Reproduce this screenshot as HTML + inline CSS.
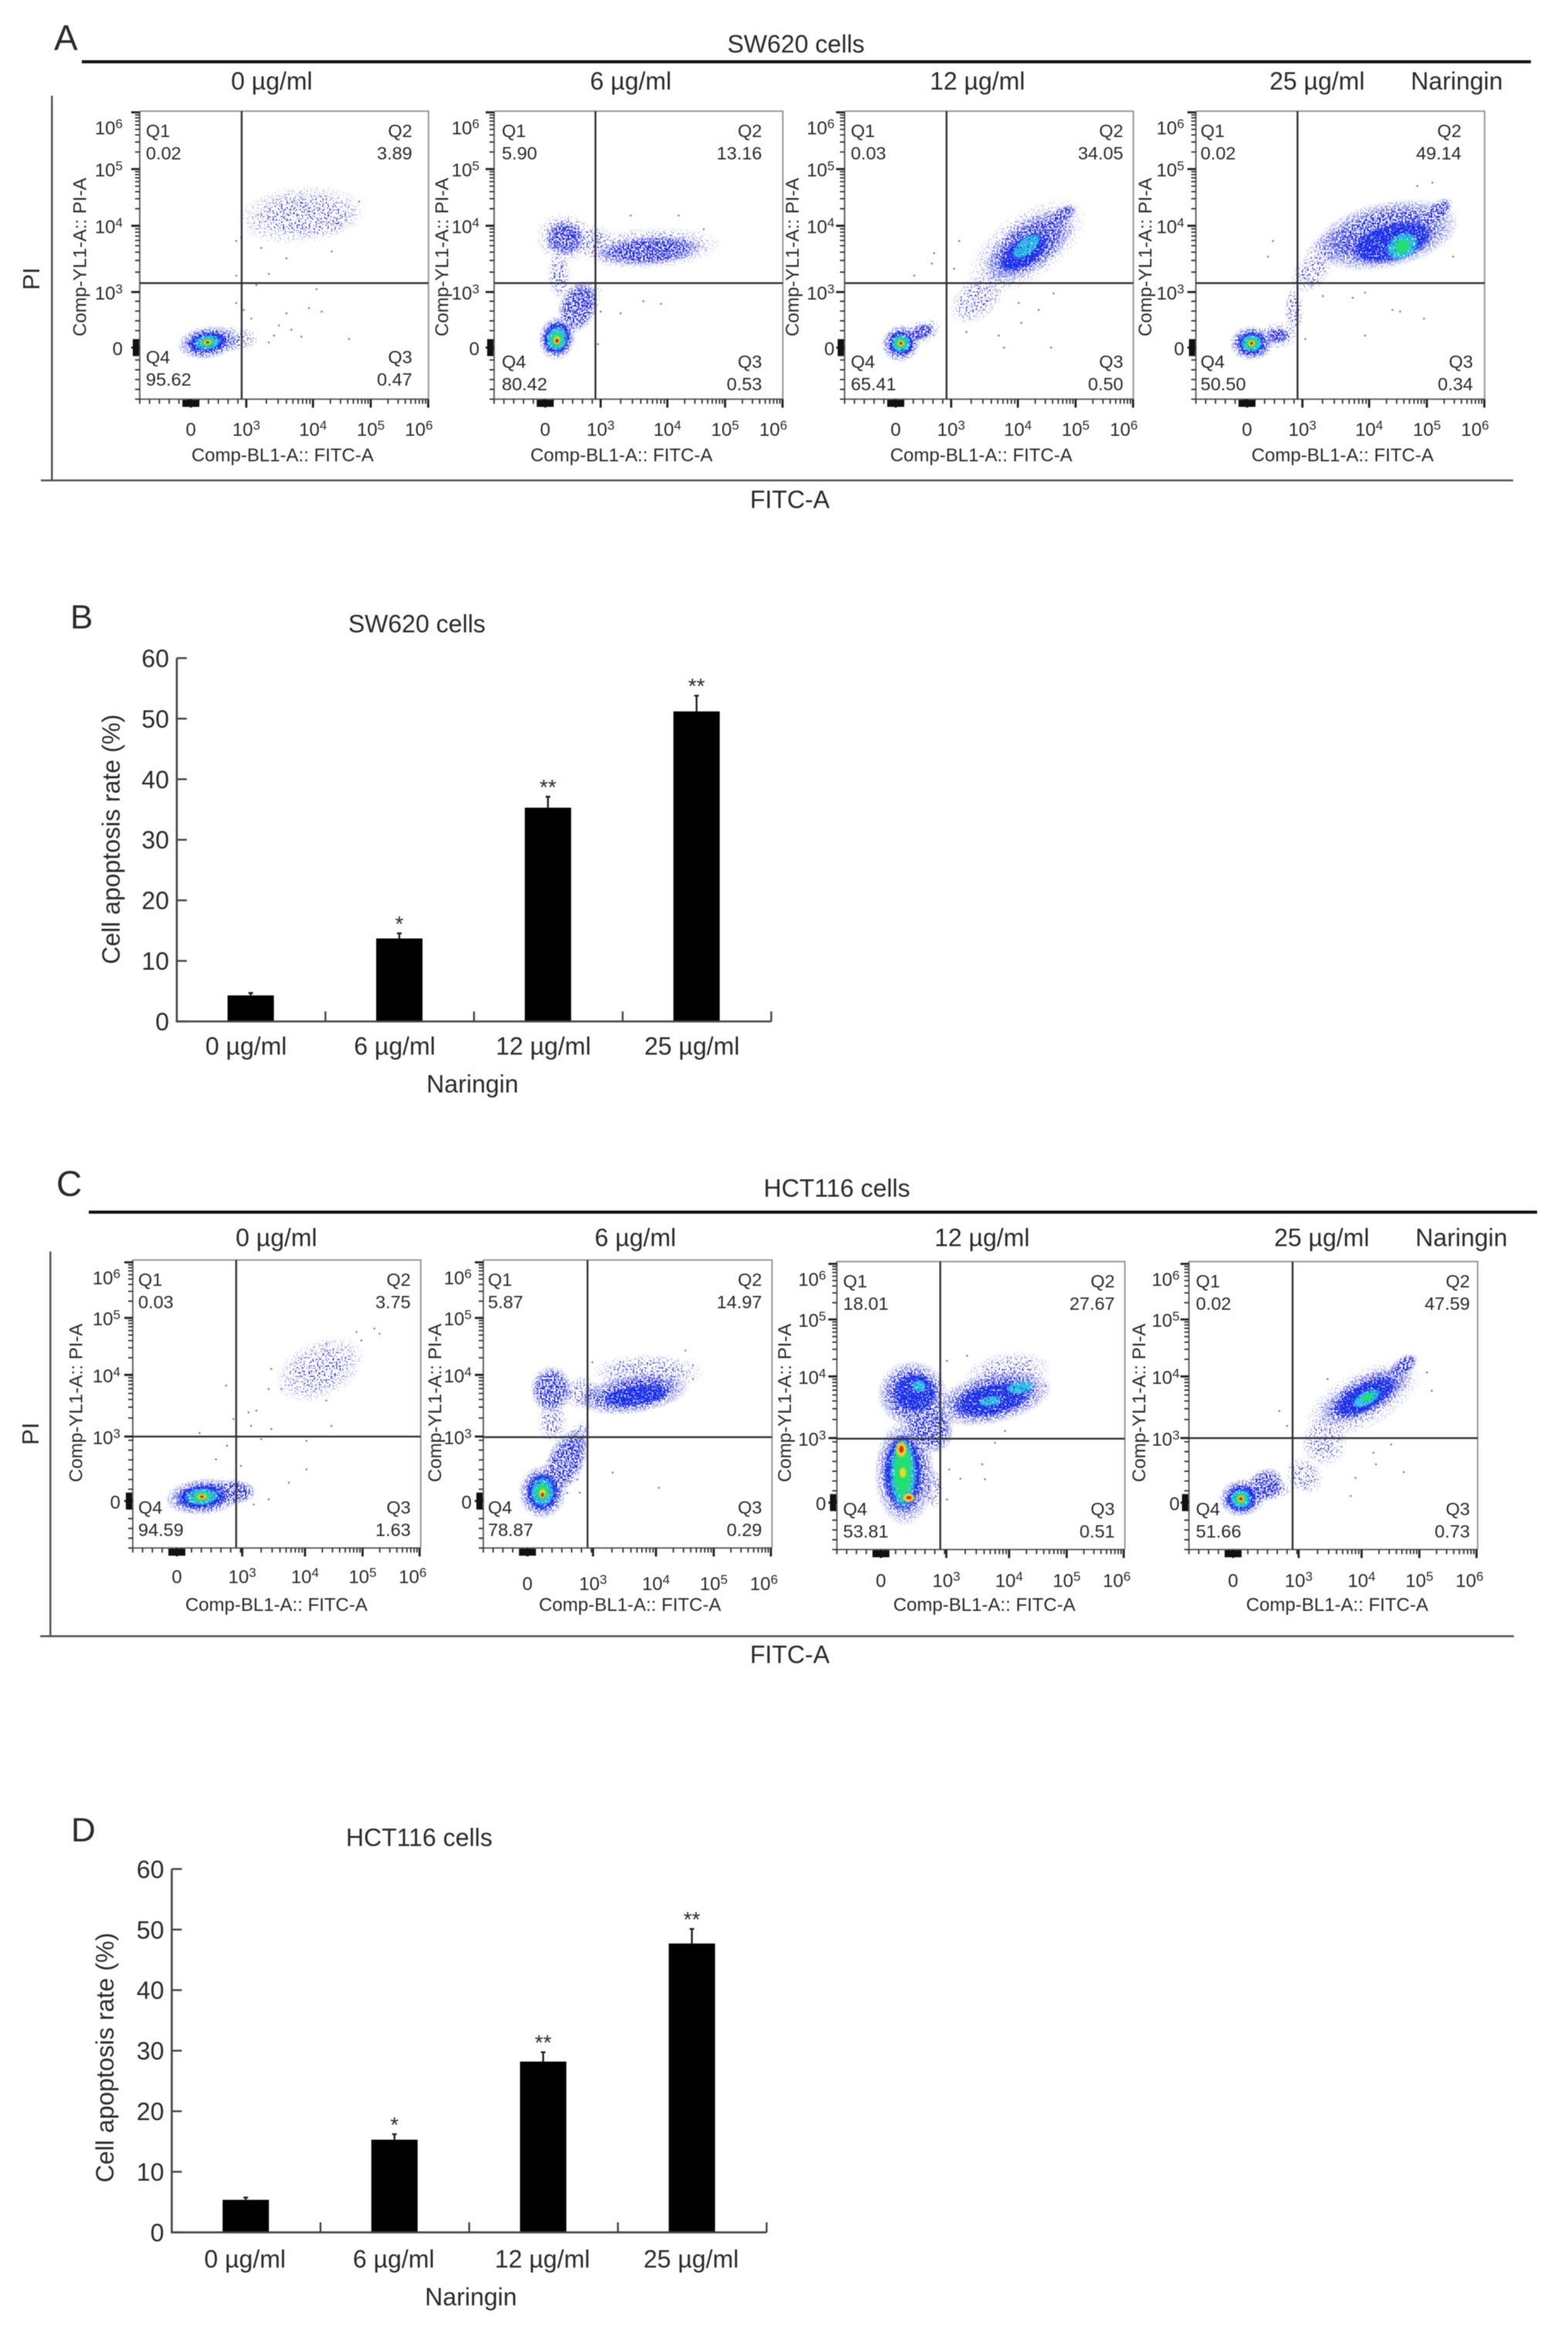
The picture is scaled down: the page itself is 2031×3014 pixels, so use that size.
<!DOCTYPE html>
<html lang="en">
<head>
<meta charset="utf-8">
<title>Naringin apoptosis figure</title>
<style>
html,body{margin:0;padding:0;background:#fff;}
svg{display:block;filter:blur(0.6px);}
text{font-family:"Liberation Sans",sans-serif;fill:#2a2a2a;}
</style>
</head>
<body>
<svg id="figure" xmlns="http://www.w3.org/2000/svg" width="2031" height="3014" viewBox="0 0 2031 3014">
<defs>
<filter id="speckle-sparse" x="-15%" y="-15%" width="130%" height="130%" color-interpolation-filters="sRGB">
<feTurbulence type="fractalNoise" baseFrequency="0.45" numOctaves="2" seed="4" result="n"/>
<feColorMatrix in="n" type="matrix" values="0 0 0 0 0 0 0 0 0 0 0 0 0 0 0 0 0 0 12 -6.7" result="m"/>
<feComposite in="SourceGraphic" in2="m" operator="in"/>
</filter>
<filter id="speckle-dense" x="-15%" y="-15%" width="130%" height="130%" color-interpolation-filters="sRGB">
<feTurbulence type="fractalNoise" baseFrequency="0.45" numOctaves="2" seed="9" result="n"/>
<feColorMatrix in="n" type="matrix" values="0 0 0 0 0 0 0 0 0 0 0 0 0 0 0 0 0 0 12 -5.6" result="m"/>
<feComposite in="SourceGraphic" in2="m" operator="in"/>
</filter>
<filter id="speckle-fill" x="-15%" y="-15%" width="130%" height="130%" color-interpolation-filters="sRGB">
<feTurbulence type="fractalNoise" baseFrequency="0.45" numOctaves="2" seed="15" result="n"/>
<feColorMatrix in="n" type="matrix" values="0 0 0 0 0 0 0 0 0 0 0 0 0 0 0 0 0 0 12 -4.5" result="m"/>
<feComposite in="SourceGraphic" in2="m" operator="in"/>
</filter>
</defs>
<rect width="2031" height="3014" fill="#fff"/>

<text x="70" y="65" font-size="46">A</text>
<text x="1031" y="68" font-size="32" text-anchor="middle">SW620 cells</text>
<rect x="106" y="78" width="1877" height="4" fill="#111"/>
<text x="352" y="116" font-size="32" text-anchor="middle">0 µg/ml</text>
<text x="817" y="116" font-size="32" text-anchor="middle">6 µg/ml</text>
<text x="1266" y="116" font-size="32" text-anchor="middle">12 µg/ml</text>
<text x="1706" y="116" font-size="32" text-anchor="middle">25 µg/ml</text>
<text x="1887" y="116" font-size="32" text-anchor="middle">Naringin</text>
<rect x="66" y="124" width="2.5" height="498" fill="#555"/>
<rect x="53" y="621" width="1907" height="2.5" fill="#555"/>
<text transform="rotate(-90 51 361)" x="51" y="361" font-size="31" text-anchor="middle">PI</text>
<text x="1023" y="658" font-size="32" text-anchor="middle">FITC-A</text>

<text x="91" y="814" font-size="44">B</text>
<text x="540" y="819" font-size="32" text-anchor="middle">SW620 cells</text>

<text x="73" y="1549" font-size="46">C</text>
<text x="1084" y="1550" font-size="32" text-anchor="middle">HCT116 cells</text>
<rect x="115" y="1568" width="1876" height="4" fill="#111"/>
<text x="358" y="1614" font-size="32" text-anchor="middle">0 µg/ml</text>
<text x="823" y="1614" font-size="32" text-anchor="middle">6 µg/ml</text>
<text x="1272" y="1614" font-size="32" text-anchor="middle">12 µg/ml</text>
<text x="1712" y="1614" font-size="32" text-anchor="middle">25 µg/ml</text>
<text x="1893" y="1614" font-size="32" text-anchor="middle">Naringin</text>
<rect x="64" y="1621" width="2.5" height="498" fill="#555"/>
<rect x="52" y="2118" width="1909" height="2.5" fill="#555"/>
<text transform="rotate(-90 50 1857)" x="50" y="1857" font-size="31" text-anchor="middle">PI</text>
<text x="1023" y="2154" font-size="32" text-anchor="middle">FITC-A</text>

<text x="92" y="2385" font-size="44">D</text>
<text x="543" y="2391" font-size="32" text-anchor="middle">HCT116 cells</text>
</svg>

<script>
/* ---------- bar chart data ---------- */
const doseCategories = ['0 µg/ml', '6 µg/ml', '12 µg/ml', '25 µg/ml'];
const barAxisTicks = [0, 10, 20, 30, 40, 50, 60];
const sw620Rates = [4.3, 13.7, 35.3, 51.2];
const sw620ErrorTops = [4.7, 14.55, 37.1, 53.8];
const sw620Significance = ['', '*', '**', '**'];
const hct116Rates = [5.37, 15.3, 28.2, 47.7];
const hct116ErrorTops = [5.75, 16.2, 29.75, 50.1];
const hct116Significance = ['', '*', '**', '**'];

/* ---------- flow cytometry axes (biexponential display channels, 0-1000) ---------- */
const flowTickBases = ['0', '10', '10', '10', '10'];
const flowTickExponents = ['', '3', '4', '5', '6'];
const xTickChannelsA = [177, 369, 600, 800, 999];
const yTickChannelsA = [179, 372, 602, 799, 996];
const xTickChannelsC = [153, 380, 598, 798, 996];
const yTickChannelsC = [163, 387, 601, 799, 992];

/* quadrant percentages: Q1, Q2, Q3, Q4 */
const a1Quadrants = ['0.02', '3.89', '0.47', '95.62'];
const a2Quadrants = ['5.90', '13.16', '0.53', '80.42'];
const a3Quadrants = ['0.03', '34.05', '0.50', '65.41'];
const a4Quadrants = ['0.02', '49.14', '0.34', '50.50'];
const c1Quadrants = ['0.03', '3.75', '1.63', '94.59'];
const c2Quadrants = ['5.87', '14.97', '0.29', '78.87'];
const c3Quadrants = ['18.01', '27.67', '0.51', '53.81'];
const c4Quadrants = ['0.02', '47.59', '0.73', '51.66'];

/* quadrant gates: FITC channel, PI channel */
const a1Gate = [353, 403];
const a2Gate = [351, 403];
const a3Gate = [353, 403];
const a4Gate = [352, 403];
const c1Gate = [359, 387];
const c2Gate = [361, 385];
const c3Gate = [359, 385];
const c4Gate = [359, 387];

/* density regions:
   FITC channel, PI channel, FITC spread, PI spread, tilt, level
   level: 0 sparse, 1 dense, 2 blue, 3 cyan, 4 green, 5 yellow, 6 red */
const a1Density = [
 [330,209,70,38,0,0],[560,640,190,85,-5,0],[640,626,100,50,-10,0],
 [235,197,95,52,-8,1],[235,197,70,36,-8,2],[235,197,48,26,-8,3],
 [235,197,30,17,-8,4],[235,197,16,10,-8,5],[235,197,8,6,0,6]
];
const a2Density = [
 [225,430,35,70,0,0],[325,358,43,48,20,0],[343,549,60,50,0,0],[540,525,210,62,-3,0],[245,560,85,75,0,0],
 [245,560,62,55,0,1],[534,515,175,46,-4,1],[290,320,60,85,20,1],
 [218,212,58,70,12,1],[218,212,50,60,10,2],[218,210,38,44,8,3],
 [218,208,26,30,8,4],[218,205,14,17,5,5],[218,203,8,9,0,6]
];
const a3Density = [
 [267,233,60,36,-20,0],[457,346,90,60,-40,0],[630,530,200,100,-35,0],
 [267,233,40,25,-20,1],[638,531,165,78,-35,1],[755,640,50,25,-30,1],
 [620,510,100,50,-35,2],[630,531,60,30,-40,3],
 [195,194,62,58,-20,1],[195,194,46,44,0,2],[195,194,34,33,0,3],
 [195,194,24,23,0,4],[195,194,13,13,0,5],[195,194,7,7,0,6]
];
const a4Density = [
 [284,221,60,40,0,0],[340,310,30,70,0,0],[470,530,90,50,-30,0],[400,440,70,50,-45,0],
 [284,221,35,25,0,1],[660,570,230,105,-12,1],[835,650,60,30,-40,1],
 [680,545,150,70,-15,2],[715,531,60,45,-30,3],[715,531,35,28,-30,4],
 [193,194,70,55,0,1],[193,194,52,44,0,2],[193,194,38,32,0,3],
 [193,194,26,22,0,4],[193,194,14,13,0,5],[193,194,7,7,0,6]
];
const c1Density = [
 [650,620,140,85,-25,0],[650,600,70,40,-15,0],
 [350,195,70,40,0,1],
 [245,178,120,58,-5,1],[240,178,90,44,-5,2],[240,178,60,30,-5,3],
 [240,178,40,20,-5,4],[240,178,20,11,-5,5],[240,178,9,6,0,6]
];
const c2Density = [
 [330,375,35,60,20,0],[239,436,45,60,0,0],[340,540,60,50,0,0],[570,610,165,55,0,0],
 [285,300,60,110,25,1],[235,550,65,75,0,1],[520,535,175,62,-8,1],
 [530,530,120,36,-8,2],
 [205,195,75,85,5,1],[205,195,58,68,5,2],[205,195,42,52,5,3],
 [205,195,28,34,5,4],[205,190,14,18,5,5],[205,185,7,9,0,6]
];
const c3Density = [
 [335,210,30,60,0,0],[590,610,130,65,-10,0],
 [235,265,95,165,0,1],[262,540,110,105,0,1],[320,430,75,90,-30,1],[540,525,190,80,-12,1],
 [229,267,70,140,0,2],[270,545,80,70,0,2],[540,520,140,55,-12,2],
 [285,568,25,22,0,3],[532,516,40,18,-10,3],[637,563,50,22,-10,3],
 [229,265,48,125,0,3],[229,270,38,115,0,4],
 [224,348,22,32,0,5],[224,348,10,16,0,6],[250,180,25,18,0,5],[250,180,12,8,0,6],[229,267,14,22,0,5]
];
const c4Density = [
 [290,205,60,30,-10,0],[470,370,70,70,-45,0],[400,255,50,60,-45,0],[600,520,190,85,-28,0],
 [265,225,60,50,-30,1],[612,535,165,62,-28,1],[745,640,50,28,-35,1],
 [612,530,120,48,-28,2],[615,525,55,25,-28,3],[620,530,30,14,-28,4],
 [185,180,75,60,-10,1],[182,177,55,48,-10,2],[180,176,38,34,0,3],
 [180,176,26,24,0,4],[180,176,14,14,0,5],[180,176,8,8,0,6]
];

/* individually visible outlying events: FITC channel, PI channel */
const a1Events = [[351,561],[421,525],[508,489],[665,513],[334,429],[447,435],[351,403],[404,396],[612,382],[334,334],[360,310],[386,280],[508,298],[586,316],[630,304],[482,256],[525,241],[465,221],[560,217],[725,209],[447,197],[569,668],[760,686],[334,549]];
const a2Events = [[517,340],[578,331],[438,298],[473,638],[726,590],[360,191],[369,304],[212,465],[204,525],[639,638]];
const a3Events = [[397,549],[310,507],[302,471],[241,429],[379,453],[603,334],[724,367],[672,310],[612,265],[534,221],[552,179],[715,179],[353,221],[422,233]];
const a4Events = [[267,549],[250,495],[767,740],[819,752],[891,495],[586,370],[543,352],[681,310],[707,304],[790,280],[586,221],[379,209],[440,358]];
const c1Events = [[839,762],[857,744],[777,750],[794,721],[672,709],[585,657],[481,622],[472,552],[516,552],[429,477],[402,471],[324,564],[350,448],[411,424],[481,413],[690,424],[232,399],[446,378],[603,372],[327,355],[289,308],[376,285],[603,273],[542,227],[472,169],[420,151],[672,512]];
const c2Events = [[700,686],[726,634],[726,587],[474,645],[448,262],[608,209],[378,645],[291,191],[326,238],[334,192]];
const c3Events = [[452,673],[382,655],[672,655],[725,568],[505,296],[514,244],[429,246],[382,174],[390,278],[549,371],[584,412]];
const c4Events = [[313,481],[340,429],[841,551],[824,615],[639,336],[700,365],[648,296],[744,269],[560,186],[577,249],[357,389],[480,592]];

/* ---------- drawing ---------- */
const SVG_NS = 'http://www.w3.org/2000/svg';
const root = document.getElementById('figure');
const levelColors = ['#3636e4', '#1a22e0', '#1a30ec', '#20c4e4', '#22e070', '#f4d820', '#ee2010'];
const levelSolidStops = ['45%', '60%', '78%', '78%', '55%', '55%', '55%'];
const levelSpreadScale = [1.2, 1.12, 1, 1, 1, 1, 1];

function mk(tag, attrs, parent) {
  const el = document.createElementNS(SVG_NS, tag);
  for (const k in attrs) el.setAttribute(k, attrs[k]);
  (parent || root).appendChild(el);
  return el;
}
function label(str, x, cy, size, anchor, parent) {
  const el = mk('text', {x: x, y: cy + size * 0.36, 'font-size': size, 'text-anchor': anchor}, parent);
  el.textContent = str;
  return el;
}
function power(base, exp, x, cy, anchor, parent) {
  const el = label(base, x, cy, 24, anchor, parent);
  if (exp) {
    const sup = mk('tspan', {dy: -8, 'font-size': 17}, el);
    sup.textContent = exp;
  }
  return el;
}

/* gradient per density level */
const defs = root.querySelector('defs');
levelColors.forEach(function (color, i) {
  const g = mk('radialGradient', {id: 'level-' + i}, defs);
  mk('stop', {offset: '0%', 'stop-color': color, 'stop-opacity': 1}, g);
  mk('stop', {offset: levelSolidStops[i], 'stop-color': color, 'stop-opacity': 1}, g);
  mk('stop', {offset: '100%', 'stop-color': color, 'stop-opacity': 0}, g);
});

function drawFlowPlot(p) {
  const w = p.r - p.l, h = p.b - p.t;
  const xs = function (c) { return p.l + c / 1000 * w; };
  const ys = function (c) { return p.b - c / 1000 * h; };

  const plot = mk('g', {});
  
  

  const sparse = mk('g', {filter: 'url(#speckle-sparse)'}, plot);
  
  
  const dense = mk('g', {filter: 'url(#speckle-dense)'}, plot);
  
  
  const fill = mk('g', {filter: 'url(#speckle-fill)'}, plot);
  
  
  const mid = mk('g', {filter: 'url(#speckle-fill)'}, plot);
  
  
  const hot = mk('g', {}, plot);
  
  
  const layers = [sparse, dense, fill, mid, hot, hot, hot];

  p.density.forEach(function (d) {
    const cx = xs(d[0]), cy = ys(d[1]);
    const k = levelSpreadScale[d[5]];
    const rx = (xs(d[0] + d[2]) - cx) * k, ry = (cy - ys(d[1] + d[3])) * k;
    const e = mk('ellipse', {cx: cx, cy: cy, rx: rx, ry: ry, fill: 'url(#level-' + d[5] + ')',
      transform: 'rotate(' + d[4] + ' ' + cx + ' ' + cy + ')'}, layers[d[5]]);
    
    
  });

  p.events.forEach(function (d) {
    const e = mk('circle', {cx: xs(d[0]), cy: ys(d[1]), r: 1.3, fill: '#5a5ae4', opacity: 0.8}, plot);
    
    
  });

  /* frame */
  const topRight = mk('path', {d: 'M' + p.l + ' ' + p.t + 'H' + p.r + 'V' + p.b, fill: 'none', stroke: '#9a9a9a', 'stroke-width': 2}, plot);
  
  
  const xLine = mk('line', {x1: p.l, x2: p.r, y1: p.b, y2: p.b, stroke: '#666', 'stroke-width': 2}, plot);
  
  
  const yLine = mk('line', {x1: p.l, x2: p.l, y1: p.t, y2: p.b, stroke: '#666', 'stroke-width': 2}, plot);
  
  

  /* gates */
  const vGate = mk('line', {x1: xs(p.gate[0]), x2: xs(p.gate[0]), y1: p.t, y2: p.b, stroke: '#333', 'stroke-width': 2.4}, plot);
  
  
  const hGate = mk('line', {x1: p.l, x2: p.r, y1: ys(p.gate[1]), y2: ys(p.gate[1]), stroke: '#333', 'stroke-width': 2.4}, plot);
  
  

  /* ticks */
  let minorX = '', minorY = '', majorX = '', majorY = '';
  const fractions = [0.301, 0.477, 0.602, 0.699, 0.778, 0.845, 0.903, 0.954];
  for (let i = 1; i < 4; i++) {
    fractions.forEach(function (f) {
      const cx = p.xTicks[i] + (p.xTicks[i + 1] - p.xTicks[i]) * f;
      const cy = p.yTicks[i] + (p.yTicks[i + 1] - p.yTicks[i]) * f;
      minorX += 'M' + xs(cx) + ' ' + p.b + 'v6';
      minorY += 'M' + p.l + ' ' + ys(cy) + 'h-6';
    });
  }
  for (let c = 0; c < p.xTicks[1]; c += 34) minorX += 'M' + xs(c) + ' ' + p.b + 'v6';
  for (let c = 0; c < p.yTicks[1]; c += 34) minorY += 'M' + p.l + ' ' + ys(c) + 'h-6';
  p.xTicks.forEach(function (c) { majorX += 'M' + xs(c) + ' ' + p.b + 'v11'; });
  p.yTicks.forEach(function (c) { majorY += 'M' + p.l + ' ' + ys(c) + 'h-11'; });
  const mx = mk('path', {d: minorX + minorY, stroke: '#333', 'stroke-width': 1.8, fill: 'none'}, plot);
  
  
  const my = mk('path', {d: majorX + majorY, stroke: '#222', 'stroke-width': 2.8, fill: 'none'}, plot);
  
  
  const cx0 = mk('rect', {x: xs(p.xTicks[0]) - 11, y: p.b + 1, width: 22, height: 9, fill: '#111'}, plot);
  
  
  const cy0 = mk('rect', {x: p.l - 9, y: ys(p.yTicks[0]) - 11, width: 8, height: 22, fill: '#111'}, plot);
  
  

  /* tick labels */
  flowTickBases.forEach(function (base, i) {
    const tx = power(base, flowTickExponents[i], xs(p.xTicks[i]) + (i === 4 ? p.nudgeX : 0), p.xLabelY, 'middle', plot);
    
    
    const ty = power(base, flowTickExponents[i], p.l - p.yLabelGap, ys(p.yTicks[i]) + (i === 4 ? 20 : 1), 'end', plot);
    
    
  });

  /* axis titles */
  const xt = label('Comp-BL1-A:: FITC-A', p.xTitleX, p.xTitleY, 24, 'middle', plot);
  
  
  const yt = label('Comp-YL1-A:: PI-A', 0, 0, 24, 'middle', plot);
  yt.setAttribute('transform', 'translate(' + (p.l - p.yTitleGap) + ' ' + p.yTitleY + ') rotate(-90)');
  
  

  /* quadrant labels */
  const qL = p.l + p.qLeft, q2R = p.r - p.q2Right, q3R = p.r - p.q3Right;
  const q1 = label('Q1', qL, p.t + 25, 23.5, 'start', plot);
  
  
  const q1v = label(p.q[0], qL, p.t + 54, 23.5, 'start', plot);
  
  
  const q2 = label('Q2', q2R, p.t + 25, 23.5, 'end', plot);
  
  
  const q2v = label(p.q[1], q2R, p.t + 54, 23.5, 'end', plot);
  
  
  const q3 = label('Q3', q3R, p.t + p.qLow, 23.5, 'end', plot);
  
  
  const q3v = label(p.q[2], q3R, p.t + p.qLow + 29, 23.5, 'end', plot);
  
  
  const q4 = label('Q4', qL, p.t + p.qLow, 23.5, 'start', plot);
  
  
  const q4v = label(p.q[3], qL, p.t + p.qLow + 29, 23.5, 'start', plot);
  
  
}

function drawBarChart(c) {
  const ys = function (v) { return c.y0 - v / 60 * (c.y0 - c.y60); };
  const step = (c.right - c.left) / doseCategories.length;
  const bandX = function (i) { return c.left + step * i + step / 2 - 0.5; };
  const chart = mk('g', {});
  
  

  c.values.forEach(function (v, i) {
    const x = bandX(i);
    const err = mk('path', {d: 'M' + x + ' ' + ys(v) + 'V' + ys(c.errors[i]) + 'm-3 0h6', stroke: '#222', 'stroke-width': 2.4, fill: 'none'}, chart);
    
    
    const bar = mk('rect', {x: x - 30, y: ys(v), width: 60, height: c.y0 - ys(v), fill: '#000'}, chart);
    
    
    if (c.stars[i]) {
      const s = mk('text', {x: x, y: ys(c.errors[i]) - 18 + 15, 'font-size': 28, 'text-anchor': 'middle'}, chart);
      s.textContent = c.stars[i];
      
      
    }
    const cat = mk('text', {x: x + c.catShift, y: c.catY + 11, 'font-size': 32, 'text-anchor': 'middle'}, chart);
    cat.textContent = doseCategories[i];
    
    
    const tick = mk('line', {x1: c.left + step * (i + 1), x2: c.left + step * (i + 1), y1: c.y0, y2: c.y0 - 13, stroke: '#444', 'stroke-width': 2.4}, chart);
    
    
  });

  const axis = mk('path', {d: 'M' + c.left + ' ' + c.y60 + 'V' + c.y0 + 'H' + c.right, stroke: '#444', 'stroke-width': 2.6, fill: 'none'}, chart);
  
  

  barAxisTicks.forEach(function (v) {
    const t = mk('line', {x1: c.left, x2: c.left + 13, y1: ys(v), y2: ys(v), stroke: '#444', 'stroke-width': 2.4}, chart);
    
    
    const l = label(String(v), c.left - 10, ys(v), 32, 'end', chart);
    
    
  });

  const xt = mk('text', {x: c.xTitleX, y: c.xTitleY + 11, 'font-size': 32, 'text-anchor': 'middle'}, chart);
  xt.textContent = 'Naringin';
  
  
  const yt = mk('text', {x: 0, y: 0, 'font-size': 32, 'text-anchor': 'middle',
    transform: 'translate(' + c.yTitleX + ' ' + c.yTitleY + ') rotate(-90)'}, chart);
  yt.textContent = 'Cell apoptosis rate (%)';
  
  
}

/* ---------- layout ---------- */
const A = {t: 144, b: 517, xTicks: xTickChannelsA, yTicks: yTickChannelsA, xLabelY: 556, xTitleY: 589, yTitleY: 333, nudgeX: -12};
const C = {xTicks: xTickChannelsC, yTicks: yTickChannelsC, xTitleY: 2078, yTitleY: 1817, nudgeX: -9, qLow: 320};

drawFlowPlot(Object.assign({}, A, {l: 181, r: 555, gate: a1Gate, density: a1Density, events: a1Events, q: a1Quadrants,
  yLabelGap: 22, yTitleGap: 78, xTitleX: 366, qLeft: 8, q2Right: 21, q3Right: 21, qLow: 318}));
drawFlowPlot(Object.assign({}, A, {l: 640, r: 1014, gate: a2Gate, density: a2Density, events: a2Events, q: a2Quadrants,
  yLabelGap: 19, yTitleGap: 68, xTitleX: 805, qLeft: 10, q2Right: 27, q3Right: 27, qLow: 324}));
drawFlowPlot(Object.assign({}, A, {l: 1094, r: 1468, gate: a3Gate, density: a3Density, events: a3Events, q: a3Quadrants,
  yLabelGap: 13, yTitleGap: 68, xTitleX: 1271, qLeft: 8, q2Right: 13, q3Right: 13, qLow: 324}));
drawFlowPlot(Object.assign({}, A, {l: 1549, r: 1923, gate: a4Gate, density: a4Density, events: a4Events, q: a4Quadrants,
  yLabelGap: 15, yTitleGap: 66, xTitleX: 1739, qLeft: 6, q2Right: 30, q3Right: 15, qLow: 324}));

drawFlowPlot(Object.assign({}, C, {l: 172, r: 545, t: 1632, b: 2005, gate: c1Gate, density: c1Density, events: c1Events, q: c1Quadrants,
  xLabelY: 2042, yLabelGap: 16, yTitleGap: 74, xTitleX: 358, qLeft: 7, q2Right: 13, q3Right: 13}));
drawFlowPlot(Object.assign({}, C, {l: 626, r: 1000, t: 1632, b: 2005, gate: c2Gate, density: c2Density, events: c2Events, q: c2Quadrants,
  xLabelY: 2051, yLabelGap: 15, yTitleGap: 63, xTitleX: 816, qLeft: 6, q2Right: 13, q3Right: 13}));
drawFlowPlot(Object.assign({}, C, {l: 1084, r: 1457, t: 1634, b: 2007, gate: c3Gate, density: c3Density, events: c3Events, q: c3Quadrants,
  xLabelY: 2047, yLabelGap: 14, yTitleGap: 68, xTitleX: 1275, qLeft: 8, q2Right: 13, q3Right: 13}));
drawFlowPlot(Object.assign({}, C, {l: 1540, r: 1914, t: 1634, b: 2007, gate: c4Gate, density: c4Density, events: c4Events, q: c4Quadrants,
  xLabelY: 2047, yLabelGap: 12, yTitleGap: 65, xTitleX: 1732, qLeft: 9, q2Right: 10, q3Right: 10}));

drawBarChart({values: sw620Rates, errors: sw620ErrorTops, stars: sw620Significance,
  left: 229, right: 999, y0: 1323, y60: 852.4, catY: 1355, catShift: -6, xTitleX: 612, xTitleY: 1404, yTitleX: 155, yTitleY: 1087});
drawBarChart({values: hct116Rates, errors: hct116ErrorTops, stars: hct116Significance,
  left: 222.5, right: 993, y0: 2891.4, y60: 2420.8, catY: 2926, catShift: -1, xTitleX: 610, xTitleY: 2975, yTitleX: 147, yTitleY: 2665});
</script>
</body>
</html>
